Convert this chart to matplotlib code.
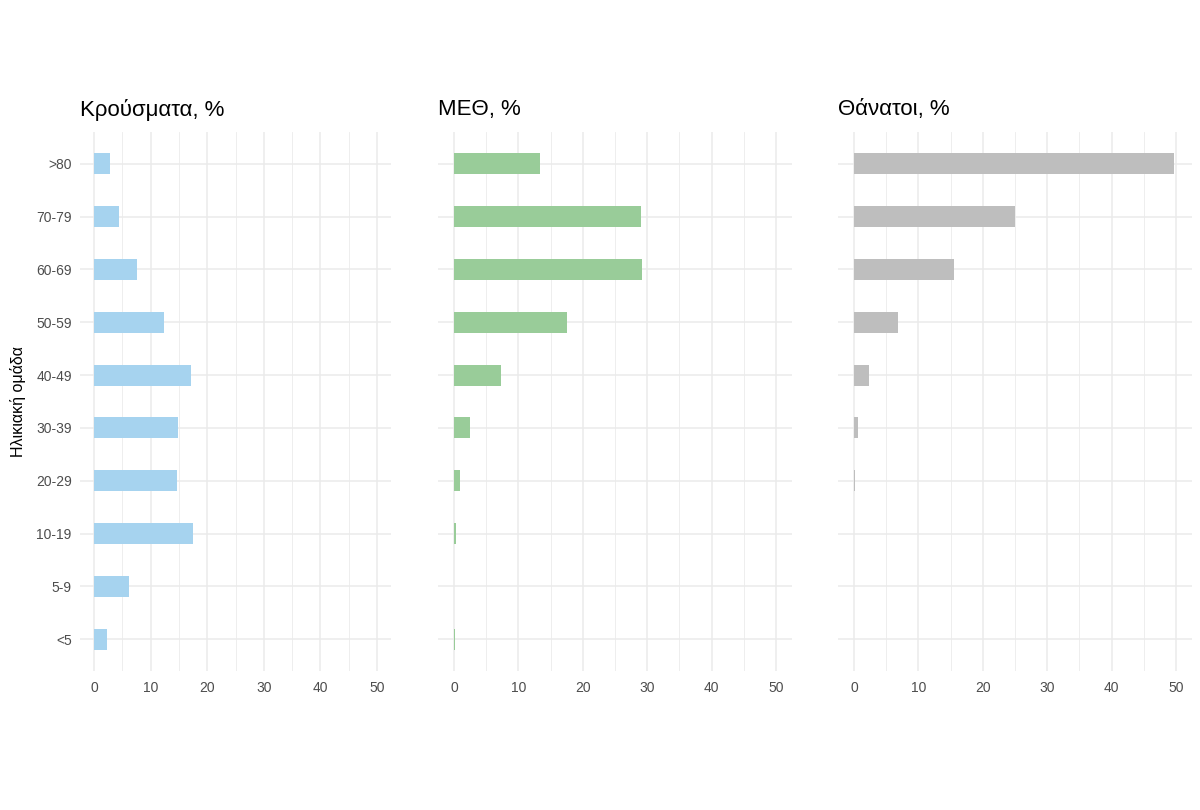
import matplotlib
matplotlib.use("Agg")
import matplotlib.pyplot as plt
import numpy as np

plt.rcParams['font.family'] = ['Liberation Sans', 'DejaVu Sans']

age_groups = ["<5", "5-9", "10-19", "20-29", "30-39", "40-49", "50-59", "60-69", "70-79", ">80"]
cases = [2.3, 6.1, 17.5, 14.7, 14.9, 17.1, 12.4, 7.5, 4.35, 2.8]
icu = [0.1, 0.05, 0.25, 0.9, 2.4, 7.3, 17.5, 29.2, 29.0, 13.4]
deaths = [0.0, 0.0, 0.0, 0.15, 0.57, 2.28, 6.85, 15.45, 25.05, 49.7]

titles = ["Κρούσματα, %", "ΜΕΘ, %", "Θάνατοι, %"]
colors = ["#A6D3EF", "#99CC99", "#BEBEBE"]
series = [cases, icu, deaths]

fig = plt.figure(figsize=(12, 8.1), dpi=100)
W, H = 1200, 810
# panel extents in pixels (left, right)
panels = [(80, 391), (438, 792), (838, 1192)]
top, bottom = 132, 671

y = np.arange(len(age_groups))
for i, ((x0, x1), vals) in enumerate(zip(panels, series)):
    ax = fig.add_axes([x0 / W, 1 - bottom / H, (x1 - x0) / W, (bottom - top) / H])
    ax.barh(y, vals, height=0.4, color=colors[i], zorder=2)
    ax.set_xlim(-2.5, 52.5)
    ax.set_ylim(-0.6, len(age_groups) - 0.4)
    ax.set_xticks(range(0, 51, 10))
    ax.set_xticks(range(5, 50, 10), minor=True)
    ax.set_yticks(y)
    for s in ax.spines.values():
        s.set_visible(False)
    ax.grid(True, which="major", color="#EBEBEB", linewidth=1.1, zorder=0)
    ax.grid(True, which="minor", axis="x", color="#EBEBEB", linewidth=0.6, zorder=0)
    ax.tick_params(which="both", length=0, labelsize=10, labelcolor="#4D4D4D")
    ax.tick_params(axis="x", pad=7)
    ax.tick_params(axis="y", pad=6)
    if i == 0:
        ax.set_yticklabels(age_groups)
        ax.set_ylabel("Ηλικιακή ομάδα", fontsize=11.5, labelpad=7)
    else:
        ax.set_yticklabels([])
    fig.text(x0 / W, 1 - 110 / H, titles[i], fontsize=16, ha="left", va="center")

fig.savefig("out.png", dpi=100)
